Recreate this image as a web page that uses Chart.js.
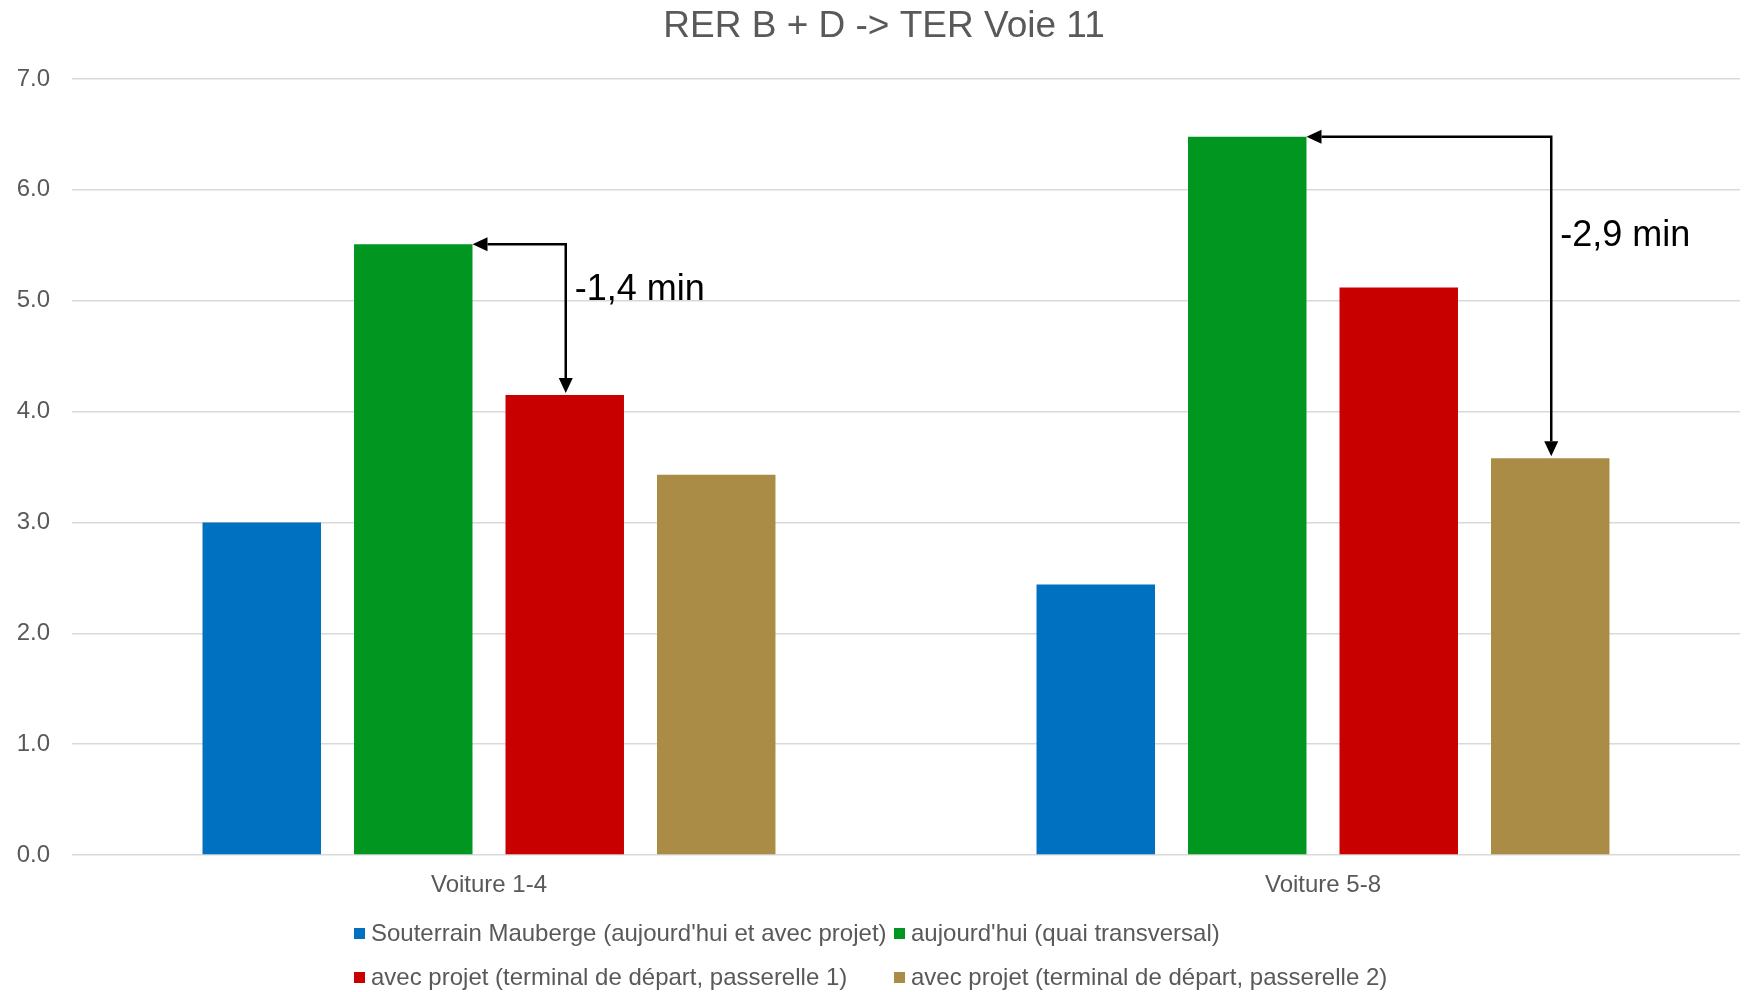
<!DOCTYPE html>
<html lang="fr">
<head>
<meta charset="utf-8">
<title>RER B + D -> TER Voie 11</title>
<script src="https://cdn.jsdelivr.net/npm/chart.js@4.4.1/dist/chart.umd.min.js"></script>
<style>
    html, body {
        margin: 0;
        padding: 0;
        background: #ffffff;
    }
    #chartWrap {
        position: relative;
        width: 1746px;
        height: 992px;
    }
</style>
</head>
<body>
<div id="chartWrap">
    <canvas id="transferChart" width="1746" height="992"></canvas>
</div>
<script>
// Temps de correspondance (minutes) par position dans le train
const chartTitle = 'RER B + D -> TER Voie 11';
const categories = ['Voiture 1-4', 'Voiture 5-8'];
const seriesLabels = [
    'Souterrain Mauberge (aujourd\'hui et avec projet)',
    'aujourd\'hui (quai transversal)',
    'avec projet (terminal de départ, passerelle 1)',
    'avec projet (terminal de départ, passerelle 2)'
];
const souterrainValues = [3.0, 2.44];
const quaiTransversalValues = [5.51, 6.48];
const passerelle1Values = [4.15, 5.12];
const passerelle2Values = [3.43, 3.58];
const seriesColors = ['#0070C0', '#009620', '#C80000', '#AB8C46'];
const yTicks = [0, 1, 2, 3, 4, 5, 6, 7];

// Gains affichés: barre de départ -> barre d'arrivée, par catégorie
const gainArrows = [
    { category: 0, from: 1, to: 2 },
    { category: 1, from: 1, to: 3 }
];

const FONT = '"Liberation Sans", Arial, sans-serif';
const TEXT_GREY = '#595959';

document.addEventListener('DOMContentLoaded', function() {
    initializeTransferChart();
});

// Title drawn centred over the plot
const titlePlugin = {
    id: 'plotTitle',
    afterDraw(chart) {
        const ctx = chart.ctx;
        ctx.save();
        ctx.font = '37px ' + FONT;
        ctx.fillStyle = TEXT_GREY;
        ctx.textAlign = 'center';
        ctx.textBaseline = 'middle';
        ctx.fillText(chartTitle, 884, 27);
        ctx.restore();
    }
};

// Two-column legend under the axis
const legendPlugin = {
    id: 'gridLegend',
    afterDraw(chart) {
        const ctx = chart.ctx;
        const columns = [354, 894];
        const rows = [934, 978];
        ctx.save();
        ctx.font = '24px ' + FONT;
        ctx.textBaseline = 'middle';
        ctx.textAlign = 'left';
        chart.data.datasets.forEach((ds, i) => {
            const x = columns[i % 2];
            const y = rows[Math.floor(i / 2)];
            ctx.fillStyle = ds.backgroundColor;
            ctx.fillRect(x, y - 6, 11, 11);
            ctx.fillStyle = TEXT_GREY;
            ctx.fillText(ds.label, x + 17, y);
        });
        ctx.restore();
    }
};

// Elbow arrows between bars with the difference in minutes
const arrowPlugin = {
    id: 'gainArrows',
    afterDatasetsDraw(chart) {
        const ctx = chart.ctx;
        const headLen = 15;
        const headHalf = 7;
        ctx.save();
        ctx.strokeStyle = '#000000';
        ctx.fillStyle = '#000000';
        ctx.lineWidth = 2.5;

        gainArrows.forEach(a => {
            const fromBar = chart.getDatasetMeta(a.from).data[a.category];
            const toBar = chart.getDatasetMeta(a.to).data[a.category];
            const startX = fromBar.x + fromBar.width / 2;
            const topY = fromBar.y;
            const cornerX = toBar.x + 1;
            const tipY = toBar.y - 2;

            ctx.beginPath();
            ctx.moveTo(startX + headLen, topY);
            ctx.lineTo(cornerX, topY);
            ctx.lineTo(cornerX, tipY - headLen);
            ctx.stroke();

            // head pointing left onto the starting bar
            ctx.beginPath();
            ctx.moveTo(startX, topY);
            ctx.lineTo(startX + headLen, topY - headHalf);
            ctx.lineTo(startX + headLen, topY + headHalf);
            ctx.closePath();
            ctx.fill();

            // head pointing down onto the target bar
            ctx.beginPath();
            ctx.moveTo(cornerX, tipY);
            ctx.lineTo(cornerX - headHalf, tipY - headLen);
            ctx.lineTo(cornerX + headHalf, tipY - headLen);
            ctx.closePath();
            ctx.fill();

            const fromValue = chart.data.datasets[a.from].data[a.category];
            const toValue = chart.data.datasets[a.to].data[a.category];
            const diff = (fromValue - toValue).toFixed(1).replace('.', ',');

            ctx.font = '36px ' + FONT;
            ctx.textAlign = 'left';
            ctx.textBaseline = 'middle';
            ctx.fillText('-' + diff + ' min', cornerX + 9, topY + 0.31 * (tipY - topY));
        });
        ctx.restore();
    }
};

function initializeTransferChart() {
    const ctx = document.getElementById('transferChart');
    if (!ctx) return;

    const seriesValues = [souterrainValues, quaiTransversalValues, passerelle1Values, passerelle2Values];

    new Chart(ctx, {
        type: 'bar',
        data: {
            labels: categories,
            datasets: seriesValues.map((values, i) => ({
                label: seriesLabels[i],
                data: values,
                backgroundColor: seriesColors[i],
                borderWidth: 0,
                categoryPercentage: 0.7266,
                barPercentage: 0.782
            }))
        },
        options: {
            responsive: false,
            animation: false,
            layout: {
                padding: { top: 79, right: 6, bottom: 77, left: 0 }
            },
            scales: {
                x: {
                    grid: { display: false },
                    border: { display: false },
                    ticks: {
                        color: TEXT_GREY,
                        font: { family: FONT, size: 24 },
                        padding: 8
                    },
                    afterFit(scale) {
                        scale.height = 60;
                    }
                },
                y: {
                    min: 0,
                    max: 7,
                    afterBuildTicks(scale) {
                        scale.ticks = yTicks.map(v => ({ value: v }));
                    },
                    grid: {
                        color: '#d9d9d9',
                        lineWidth: 1.5,
                        drawTicks: false
                    },
                    border: { display: false },
                    ticks: {
                        color: TEXT_GREY,
                        font: { family: FONT, size: 24 },
                        padding: 22,
                        callback: value => value.toFixed(1)
                    },
                    afterFit(scale) {
                        scale.width = 72;
                    }
                }
            },
            plugins: {
                legend: { display: false },
                title: { display: false },
                tooltip: { enabled: false }
            }
        },
        plugins: [titlePlugin, legendPlugin, arrowPlugin]
    });
}
</script>
</body>
</html>
